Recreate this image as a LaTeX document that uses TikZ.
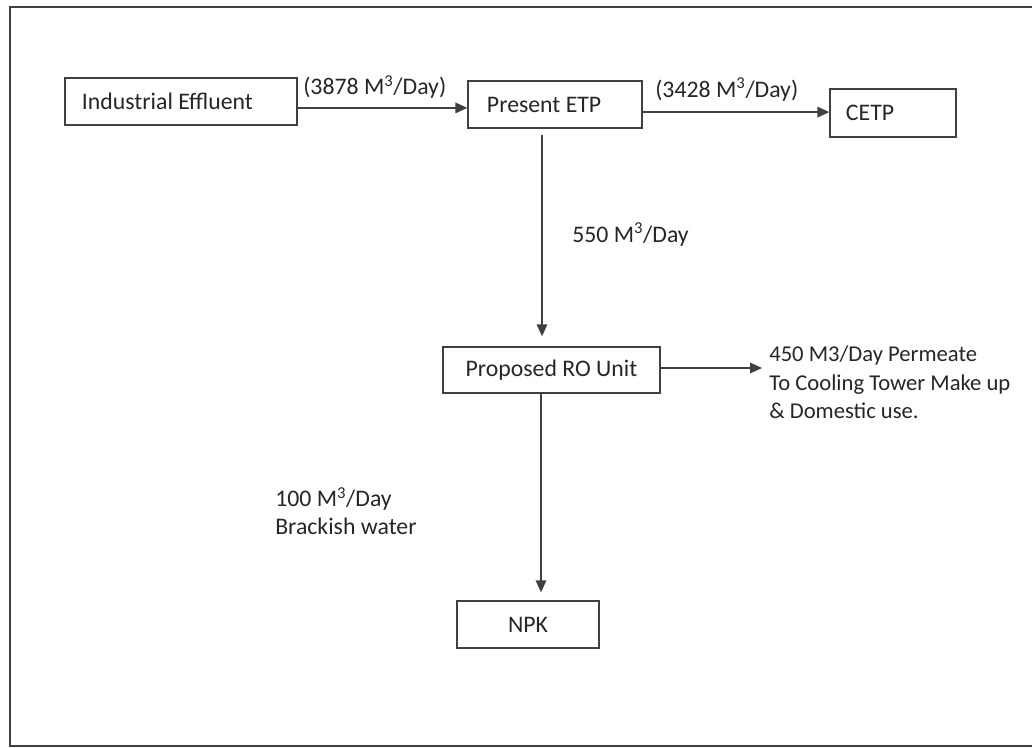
\documentclass[tikz,border=0pt]{standalone}
\usepackage{fontspec}
\setmainfont{Carlito}
\usetikzlibrary{arrows.meta}

\begin{document}
\begin{tikzpicture}[
    x=0.025cm, y=-0.025cm,
    font=\fontsize{16.9}{19.6}\selectfont,
    box/.style={draw=black!75, line width=0.9pt, minimum height=1.175cm, inner sep=0pt, text=black!85},
    flow/.style={draw=black!75, line width=1pt, -{Triangle[length=8.5pt,width=7.5pt]}},
    lbl/.style={text=black!85, inner sep=0pt, align=left}
]

\useasboundingbox (0,0) rectangle (1032,748);

\draw[black!75, line width=1pt] (1032,7) -- (10,7) -- (10,746) -- (1032,746);

\node[box, minimum width=5.8cm, text width=4.95cm, inner xsep=0.425cm, align=flush left] (ie) at (181,101.5)
{Industrial Effluent};

\node[box, minimum width=4.35cm, text width=3.4cm, inner xsep=0.475cm, align=flush left] (etp) at (555,104.5)
{Present ETP};

\node[box, minimum width=3.15cm, text width=2.35cm, inner xsep=0.4cm, align=flush left, minimum height=1.2cm] (cetp) at (893,113)
{CETP};

\node[box, minimum width=5.425cm, minimum height=1.15cm] (ro) at (551.5,370)
{Proposed RO Unit};

\node[box, minimum width=3.55cm] (npk) at (528,624.5)
{NPK};

\node[lbl, anchor=base west] (q1) at (303,95) {(3878 M\textsuperscript{3}/Day)};
\node[lbl, anchor=base west] (q2) at (655,97.5) {(3428 M\textsuperscript{3}/Day)};
\node[lbl, anchor=base west] (q3) at (572,242) {550 M\textsuperscript{3}/Day};
\node[lbl, anchor=west, font=\fontsize{16.1}{20.3}\selectfont] (perm) at (769,382.5)
{450 M3/Day Permeate\\To Cooling Tower Make up\\\& Domestic use.};
\node[lbl, anchor=west] (brack) at (275,511)
{100 M\textsuperscript{3}/Day\\Brackish water};

\draw[flow] ([yshift=-0.16cm]ie.east) -- ([yshift=-0.16cm]ie.east -| etp.west);
\draw[flow] ([yshift=-0.19cm]etp.east) -- ([yshift=-0.19cm]etp.east -| cetp.west);
\draw[flow, shorten <=0.15cm, shorten >=0.25cm] ([xshift=-0.325cm]etp.south) -- ([xshift=-0.325cm]etp.south |- ro.north);
\draw[flow, shorten >=0.2cm] ([xshift=-0.2625cm]ro.south) -- ([xshift=-0.2625cm]ro.south |- npk.north);
\draw[flow, shorten >=0.175cm] ([yshift=0.05cm]ro.east) -- ([yshift=0.05cm]ro.east -| perm.west);

\end{tikzpicture}
\end{document}
